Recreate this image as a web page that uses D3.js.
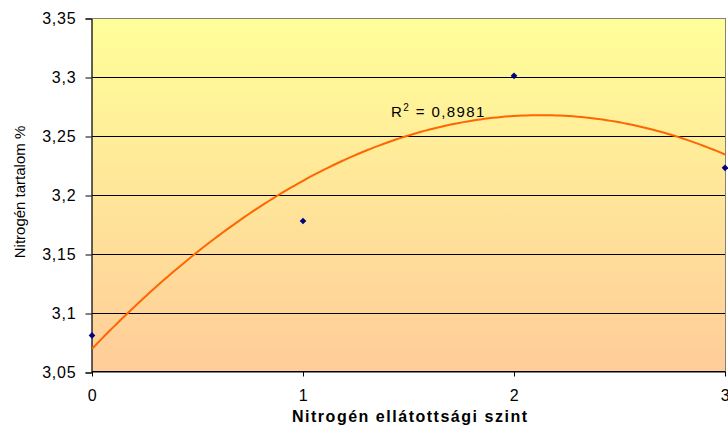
<!DOCTYPE html>
<html>
<head>
<meta charset="utf-8">
<script src="https://cdn.jsdelivr.net/npm/d3@7"></script>
<style>
  body { margin: 0; background: #fff; }
  text { font-family: "Liberation Sans", Arial, sans-serif; }
</style>
</head>
<body>
<div id="chart"></div>
<script>
var szint = [0, 1, 2, 3];
var tartalom = [3.081, 3.178, 3.301, 3.223];
var yTicks = [3.05, 3.1, 3.15, 3.2, 3.25, 3.3, 3.35];
var xTicks = [0, 1, 2, 3];

var svg = d3.select("#chart").append("svg")
    .attr("width", 728)
    .attr("height", 435);

var plotL = 92, plotR = 725, plotT = 18, plotB = 372;

var xScale = d3.scaleLinear().domain([0, 3]).range([plotL, plotR]);
var yScale = d3.scaleLinear().domain([3.05, 3.35]).range([plotB, plotT]);

var grad = svg.append("defs").append("linearGradient")
    .attr("id", "bg")
    .attr("x1", 0).attr("y1", 0).attr("x2", 0).attr("y2", 1);
grad.append("stop").attr("offset", "0%").attr("stop-color", "#ffff99");
grad.append("stop").attr("offset", "100%").attr("stop-color", "#ffcc99");

svg.append("rect")
    .attr("x", plotL).attr("y", plotT + 0.5)
    .attr("width", plotR - plotL + 0.5).attr("height", plotB - plotT)
    .attr("fill", "url(#bg)")
    .attr("stroke", "#808080")
    .attr("stroke-width", 1);

// gridlines
svg.selectAll("line.grid")
    .data(yTicks.slice(1, -1))
    .enter().append("line")
    .attr("class", "grid")
    .attr("x1", plotL).attr("x2", plotR)
    .attr("y1", function(d) { return Math.round(yScale(d)) + 0.5; })
    .attr("y2", function(d) { return Math.round(yScale(d)) + 0.5; })
    .attr("stroke", "#000")
    .attr("stroke-width", 1);

var fmt = function(d) { return String(+d.toFixed(2)).replace(".", ","); };

var yAxis = d3.axisLeft(yScale)
    .tickValues(yTicks)
    .tickSize(6)
    .tickPadding(9)
    .tickFormat(fmt);
var yG = svg.append("g")
    .attr("transform", "translate(" + (plotL - 0.5) + ",0.5)")
    .call(yAxis);

var xAxis = d3.axisBottom(xScale)
    .tickValues(xTicks)
    .tickSize(5)
    .tickPadding(13)
    .tickFormat(function(d) { return d; });
var xG = svg.append("g")
    .attr("transform", "translate(0," + (plotB - 0.5) + ")")
    .call(xAxis);

[yG, xG].forEach(function(g) {
  g.select(".domain").attr("stroke", "#000").attr("stroke-width", 1);
  g.selectAll(".tick line").attr("stroke", "#000");
  g.selectAll("text")
    .attr("fill", "#000")
    .style("font-size", "16px")
    .style("letter-spacing", "0.8px")
    .style("font-family", "'Liberation Sans', Arial, sans-serif");
});
xG.select(".domain").attr("d", "M" + plotL + ",0H" + plotR);

// polynomial trendline (order 2), least squares
function polyFit(xs, ys) {
  var n = xs.length, s = [0, 0, 0, 0, 0], t = [0, 0, 0];
  for (var i = 0; i < n; i++) {
    for (var k = 0; k < 5; k++) s[k] += Math.pow(xs[i], k);
    for (var k = 0; k < 3; k++) t[k] += ys[i] * Math.pow(xs[i], k);
  }
  var M = [[s[0], s[1], s[2], t[0]], [s[1], s[2], s[3], t[1]], [s[2], s[3], s[4], t[2]]];
  for (var c = 0; c < 3; c++) {
    for (var r = c + 1; r < 3; r++) {
      var f = M[r][c] / M[c][c];
      for (var j = c; j < 4; j++) M[r][j] -= f * M[c][j];
    }
  }
  var b = [0, 0, 0];
  for (var r = 2; r >= 0; r--) {
    var v = M[r][3];
    for (var j = r + 1; j < 3; j++) v -= M[r][j] * b[j];
    b[r] = v / M[r][r];
  }
  return b;
}
var coef = polyFit(szint, tartalom);
var trendPts = d3.range(0, 3.0001, 0.02);
var trendLine = d3.line()
    .x(function(d) { return xScale(d); })
    .y(function(d) { return yScale(coef[0] + coef[1] * d + coef[2] * d * d); });

svg.append("path")
    .attr("d", trendLine(trendPts))
    .attr("fill", "none")
    .attr("stroke", "#ff6600")
    .attr("stroke-width", 2);

// points
var marker = d3.symbol().type(d3.symbolSquare).size(22);
svg.selectAll("path.pt")
    .data(szint)
    .enter().append("path")
    .attr("class", "pt")
    .attr("d", marker)
    .attr("transform", function(d, i) {
      return "translate(" + xScale(d) + "," + yScale(tartalom[i]) + ") rotate(45)";
    })
    .attr("fill", "#000080");

// R² label
var r2 = svg.append("text")
    .attr("x", 391)
    .attr("y", 117)
    .style("font-size", "15px")
    .style("letter-spacing", "1.4px")
    .attr("fill", "#000");
r2.append("tspan").text("R");
r2.append("tspan").attr("dy", -6).style("font-size", "10px").text("2");
r2.append("tspan").attr("dy", 6).text(" = 0,8981");

// axis titles
svg.append("text")
    .attr("x", 292)
    .attr("y", 422)
    .attr("textLength", 235)
    .attr("lengthAdjust", "spacing")
    .style("font-size", "16px")
    .style("font-weight", "bold")
    .text("Nitrogén ellátottsági szint");

svg.append("text")
    .attr("transform", "translate(25,192) rotate(-90)")
    .attr("text-anchor", "middle")
    .style("font-size", "15px")
    .text("Nitrogén tartalom %");
</script>
</body>
</html>
